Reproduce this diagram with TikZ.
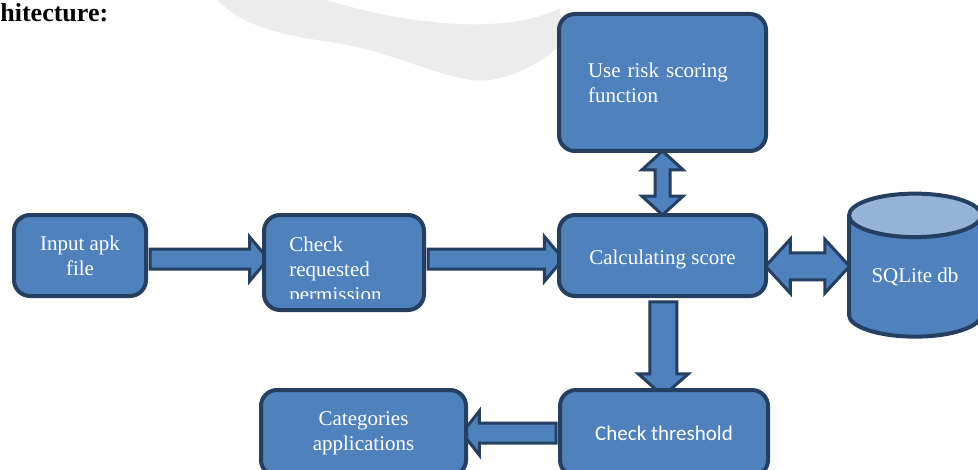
\documentclass[tikz,border=0pt]{standalone}
\usepackage{fontspec}
\setmainfont{Liberation Serif}
\newfontfamily\calibri{Carlito}
\usetikzlibrary{shapes.geometric,shapes.arrows,calc,backgrounds}
\definecolor{boxblue}{HTML}{4F81BD}
\definecolor{boxline}{HTML}{243F60}
\definecolor{dbtop}{HTML}{95B3D7}

\begin{document}
\begin{tikzpicture}[x=0.5pt,y=-0.5pt,
  box/.style={draw=boxline,fill=boxblue,line width=2pt,rounded corners=8pt,
    text=white,font=\fontsize{10.5}{12.5}\selectfont,align=center,inner sep=0pt},
  fatarrow/.style={single arrow,draw=boxline,fill=boxblue,line width=1.5pt,
    inner xsep=0pt,single arrow tip angle=100,single arrow head indent=0pt},
  fatarrows/.style={double arrow,draw=boxline,fill=boxblue,line width=1.5pt,
    inner xsep=0pt,double arrow tip angle=95,double arrow head indent=0pt}]
\useasboundingbox (0,0) rectangle (978,470);

\node[anchor=base west,inner sep=0pt,font=\fontsize{13}{15}\selectfont\bfseries] (title) at (0,22) {hitecture:};

\node[box,minimum width=66pt,minimum height=40.5pt] (inp) at (80,255.5) {Input apk\\file};
\node[box,minimum width=80pt,minimum height=47.5pt] (chk) at (344,262.5) {};
\begin{scope}
\clip (266,217) rectangle (422,298);
\node[anchor=west,inner sep=0pt,text=white,align=left,font=\fontsize{10.5}{12.5}\selectfont] (chktxt) at (289,271) {Check\\requested\\permission};
\end{scope}
\node[box,minimum width=103.5pt,minimum height=68.5pt,text width=74.5pt,align=left] (risk) at (662.5,82.5) {Use risk scoring function};
\node[box,minimum width=103.5pt,minimum height=40.5pt,text height=9pt,text depth=0pt] (calc) at (662.5,255.5) {Calculating score};
\node[box,minimum width=104pt,minimum height=43pt,font=\fontsize{10.5}{12.5}\calibri] (thr) at (664,433) {Check threshold};
\node[box,minimum width=102.5pt,minimum height=43pt] (cat) at (363.5,433) {Categories\\applications};
\node[cylinder,shape border rotate=90,shape aspect=0.5,draw=boxline,line width=2pt,
  cylinder uses custom fill,cylinder body fill=boxblue,cylinder end fill=dbtop,
  minimum width=66pt,minimum height=71.5pt,inner sep=0pt,text=white,
  font=\fontsize{10.5}{12.5}\selectfont] (db) at (915,277) {SQLite db};

\begin{scope}[on background layer]
\fill[gray!15] (218,0) .. controls (240,25) and (280,35) .. (330,42)
  .. controls (400,52) and (450,85) .. (490,80) .. controls (520,75) and (545,60) .. (560,45)
  -- (560,8) .. controls (520,30) and (430,32) .. (327,0) -- cycle;
\node[fatarrow,minimum height=59pt,inner ysep=4.25pt,single arrow head extend=6pt] (a1) at ($(inp.east)!.5!(chk.west)$) {};
\node[fatarrow,minimum height=67.5pt,inner ysep=4.25pt,single arrow head extend=6.25pt] (a2) at ($(chk.east)!.5!(calc.west)$) {};
\node[fatarrows,minimum height=32pt,inner ysep=3pt,double arrow head extend=6.5pt,rotate=90] (a3) at ($(risk.south)!.5!(calc.north)$) {};
\node[fatarrows,minimum height=42pt,inner ysep=6pt,double arrow head extend=6.75pt] (a4) at ($(calc.east)!.5!(db.west)$) {};
\node[fatarrow,minimum height=47pt,inner ysep=6pt,single arrow head extend=5.75pt,single arrow tip angle=97,rotate=-90] (a5) at ($(calc.south)!.5!(thr.north)$) {};
\node[fatarrow,minimum height=47pt,inner ysep=4.25pt,single arrow head extend=6pt,single arrow tip angle=104,rotate=180] (a6) at ($(thr.west)!.5!(cat.east)$) {};
\end{scope}
\end{tikzpicture}
\end{document}
